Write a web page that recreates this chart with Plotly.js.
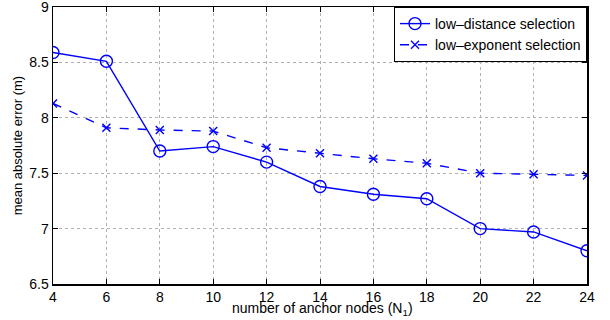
<!DOCTYPE html>
<html><head><meta charset="utf-8">
<script src="https://cdn.plot.ly/plotly-3.0.1.min.js"></script>
<style>html,body{margin:0;padding:0;background:#fff}</style>
</head><body>
<div id="chart" style="width:610px;height:320px"></div>
<script>
const anchorNodes = [4, 6, 8, 10, 12, 14, 16, 18, 20, 22, 24];
const lowDistance = [8.59, 8.51, 7.70, 7.74, 7.60, 7.38, 7.31, 7.27, 7.00, 6.97, 6.80];
const lowExponent = [8.13, 7.91, 7.89, 7.88, 7.73, 7.68, 7.63, 7.59, 7.50, 7.49, 7.48];
const seriesNames = ['low\u2013distance selection', 'low\u2013exponent selection'];
const xTicks = [4, 6, 8, 10, 12, 14, 16, 18, 20, 22, 24];
const yTicks = [6.5, 7, 7.5, 8, 8.5, 9];
const xTitle = 'number of anchor nodes (N<sub>1</sub>)';
const yTitle = 'mean absolute error (m)';

const font = 'Liberation Sans, Arial, Helvetica, sans-serif';
const traces = [
  {x: anchorNodes, y: lowDistance, name: seriesNames[0], type: 'scatter', mode: 'lines+markers',
   line: {color: '#0000ff', width: 1.4},
   marker: {symbol: 'circle-open', size: 12, color: '#0000ff', line: {width: 1.4, color: '#0000ff'}}},
  {x: anchorNodes, y: lowExponent, name: seriesNames[1], type: 'scatter', mode: 'lines+markers',
   line: {color: '#0000ff', width: 1.4, dash: 'dash'},
   marker: {symbol: 'x-thin-open', size: 8, color: '#0000ff', line: {width: 1.4, color: '#0000ff'}}}
];
const axisCommon = {
  showline: true, mirror: 'ticks', linecolor: '#000', linewidth: 1.5,
  ticks: 'inside', ticklen: 5, tickcolor: '#000', tickwidth: 1,
  showgrid: true, gridcolor: '#b0b0b0', griddash: 'dot', gridwidth: 1,
  zeroline: false, ticklabeloverflow: 'allow', automargin: false,
  tickfont: {family: font, size: 14, color: '#000'}
};
const layout = {
  width: 610, height: 320,
  margin: {l: 53, r: 23, t: 7, b: 36},
  paper_bgcolor: '#fff', plot_bgcolor: '#fff',
  font: {family: font, color: '#000'},
  xaxis: Object.assign({}, axisCommon, {range: [4, 24], tickvals: xTicks, ticktext: xTicks.map(String)}),
  yaxis: Object.assign({}, axisCommon, {range: [6.5, 9.0001], tickvals: yTicks, ticktext: yTicks.map(String)}),
  annotations: [{
    text: xTitle, xref: 'paper', yref: 'paper',
    x: 0.505, y: -0.05, xanchor: 'center', yanchor: 'top', showarrow: false,
    font: {family: font, size: 14, color: '#000'}
  }, {
    text: yTitle, xref: 'paper', yref: 'paper', textangle: -90,
    x: -0.066, y: 0.5, xanchor: 'center', yanchor: 'middle', showarrow: false,
    font: {family: font, size: 13, color: '#000'}
  }],
  showlegend: true,
  legend: {x: 1, xanchor: 'right', y: 1, yanchor: 'top', bgcolor: '#fff', bordercolor: '#000', borderwidth: 1,
    font: {family: font, size: 14, color: '#000'}, itemwidth: 30, tracegroupgap: 0}
};
Plotly.newPlot('chart', traces, layout, {displayModeBar: false, staticPlot: true});
</script>
</body></html>
